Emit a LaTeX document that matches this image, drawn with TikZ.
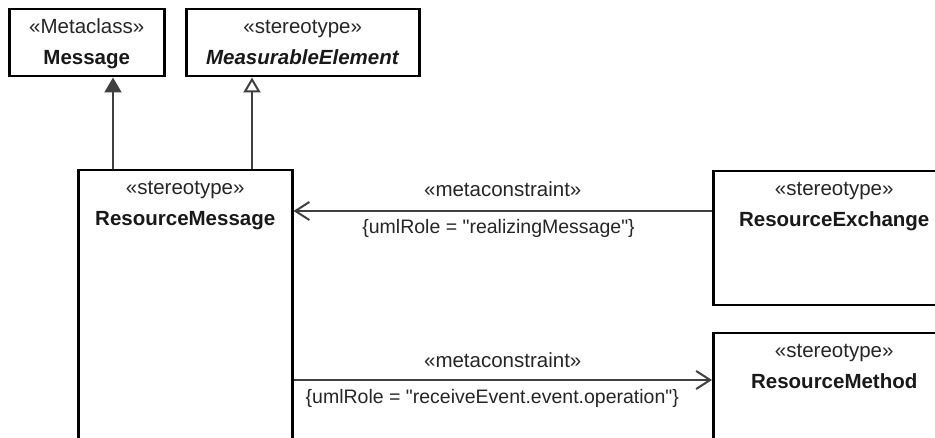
\documentclass[tikz,border=0pt]{standalone}
\usepackage{fontspec}
\setmainfont{Liberation Sans}
\usetikzlibrary{arrows.meta,positioning}

\begin{document}
\begin{tikzpicture}[x=1pt,y=-1pt,
  classbox/.style={draw=black, line width=2.5pt, fill=white, anchor=north west, inner sep=0pt},
  stereo/.style={font=\fontsize{20.5}{24}\selectfont, text=black!85, anchor=base, inner sep=0pt},
  clname/.style={font=\fontsize{20.5}{24}\selectfont\bfseries, text=black!90, anchor=base, inner sep=0pt},
  edgelbl/.style={font=\fontsize{20.5}{24}\selectfont, text=black!85, anchor=base, inner sep=0pt},
  rolelbl/.style={font=\fontsize{19.5}{23}\selectfont, text=black!85, anchor=base, inner sep=0pt},
  extarrow/.style={draw=black!75, line width=2pt, -{Triangle[length=15pt,width=17pt,fill=black!75]}},
  genarrow/.style={draw=black!75, line width=2pt, -{Triangle[open,length=15pt,width=17pt,fill=white]}},
  cstarrow/.style={draw=black!75, line width=2pt, -{Straight Barb[length=14pt,width=18pt]}}]
\useasboundingbox (0,0) rectangle (935,438);
\clip (0,0) rectangle (935,438);
\fill[white] (0,0) rectangle (935,438);

% classes: name/x/y/width/height/stereotype/title
\foreach \n/\x/\y/\w/\h/\s/\t in {
    message/8/8/155/67/{«Metaclass»}/{Message},
    measel/185/8/233/67/{«stereotype»}/{\textit{MeasurableElement}},
    resmsg/77/169/214/300/{«stereotype»}/{ResourceMessage},
    resexch/712/170/242/134/{«stereotype»}/{ResourceExchange},
    resmeth/712/332/242/150/{«stereotype»}/{ResourceMethod}} {
  \node[classbox, minimum width=\w*1pt, minimum height=\h*1pt] (\n) at (\x,\y) {};
  \node[stereo] (\n-st) at ([yshift=-26pt]\n.north) {\s};
  \node[clname] (\n-nm) at ([yshift=-57pt]\n.north) {\t};
}

% extension and generalization
\coordinate (extfoot) at ([xshift=36pt]resmsg.north west);
\coordinate (genfoot) at ([xshift=175pt]resmsg.north west);
\draw[extarrow] (extfoot) -- (extfoot |- message.south);
\draw[genarrow] (genfoot) -- (genfoot |- measel.south);

% metaconstraints
\coordinate (realize) at ([yshift=-41pt]resexch.north west);
\coordinate (receive) at ([yshift=-48pt]resmeth.north west);
\draw[cstarrow] (realize) -- (realize -| resmsg.east)
  node[edgelbl, pos=0.5, yshift=14pt] (mc1) {«metaconstraint»}
  node[rolelbl, pos=0.51, yshift=-23pt] (role1) {\{umlRole = \textquotedbl realizingMessage\textquotedbl\}};
\draw[cstarrow] (receive -| resmsg.east) -- (receive)
  node[edgelbl, pos=0.5, yshift=12pt] (mc2) {«metaconstraint»}
  node[rolelbl, pos=0.475, yshift=-24pt] (role2) {\{umlRole = \textquotedbl receiveEvent.event.operation\textquotedbl\}};
\end{tikzpicture}
\end{document}
